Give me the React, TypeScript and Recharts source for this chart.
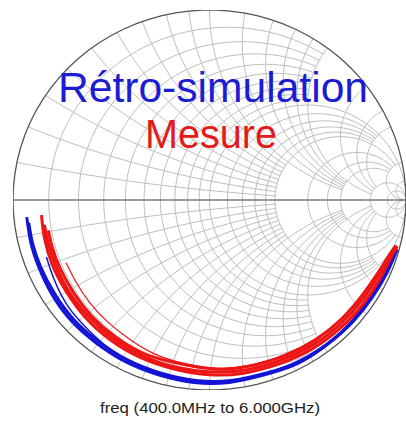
import React from "react";
import { ScatterChart, Scatter, XAxis, YAxis } from "recharts";

// Smith chart grid values (normalized resistance / reactance) and where each arc stops
const resistanceValues = [0.1, 0.2, 0.3, 0.4, 0.5, 0.6, 0.7, 0.8, 0.9, 1, 1.2, 1.4, 1.6, 1.8, 2, 3, 4, 5, 10, 20];
const resistanceLimits = [2, 2, 2, 2, 2, 2, 2, 2, 2, Infinity, 5, 5, 5, 5, 10, 10, 10, 10, Infinity, Infinity];
const reactanceValues = [0.1, 0.2, 0.3, 0.4, 0.5, 0.6, 0.7, 0.8, 0.9, 1, 1.2, 1.4, 1.6, 1.8, 2, 3, 4, 5, 10, 20];
const reactanceLimits = [2, 2, 2, 2, 2, 2, 2, 2, 2, 5, 5, 5, 5, 5, 10, 10, 10, 10, Infinity, Infinity];

const simTraceARe = [-0.93, -0.91, -0.87, -0.8, -0.7, -0.58, -0.43, -0.26, -0.08, 0.1, 0.28, 0.45, 0.6, 0.73, 0.83, 0.9, 0.935, 0.955];
const simTraceAIm = [-0.09, -0.22, -0.35, -0.5, -0.64, -0.75, -0.85, -0.92, -0.96, -0.96, -0.92, -0.86, -0.76, -0.64, -0.51, -0.39, -0.31, -0.26];
const simTraceBRe = [-0.92, -0.9, -0.86, -0.79, -0.69, -0.57, -0.42, -0.25, -0.07, 0.11, 0.29, 0.46, 0.61, 0.735, 0.83, 0.895, 0.93, 0.95];
const simTraceBIm = [-0.12, -0.23, -0.35, -0.49, -0.63, -0.74, -0.84, -0.91, -0.95, -0.95, -0.91, -0.85, -0.75, -0.63, -0.5, -0.38, -0.3, -0.255];
const simTraceCRe = [-0.83, -0.79, -0.72, -0.62, -0.5, -0.36, -0.2, -0.02, 0.16, 0.34, 0.5, 0.64, 0.76, 0.85, 0.91, 0.948];
const simTraceCIm = [-0.3, -0.42, -0.56, -0.68, -0.79, -0.87, -0.93, -0.955, -0.945, -0.895, -0.82, -0.72, -0.59, -0.45, -0.33, -0.255];

const measTraceARe = [-0.855, -0.84, -0.8, -0.73, -0.63, -0.5, -0.35, -0.18, 0, 0.18, 0.36, 0.52, 0.66, 0.78, 0.87, 0.92, 0.955];
const measTraceAIm = [-0.08, -0.2, -0.34, -0.48, -0.62, -0.74, -0.83, -0.89, -0.92, -0.91, -0.86, -0.785, -0.68, -0.55, -0.41, -0.31, -0.245];
const measTraceBRe = [-0.84, -0.82, -0.78, -0.71, -0.61, -0.49, -0.34, -0.17, 0.01, 0.19, 0.37, 0.53, 0.665, 0.78, 0.865, 0.915, 0.952];
const measTraceBIm = [-0.13, -0.23, -0.35, -0.49, -0.62, -0.73, -0.82, -0.88, -0.905, -0.893, -0.84, -0.76, -0.654, -0.523, -0.39, -0.3, -0.24];
const measTraceCRe = [-0.82, -0.8, -0.76, -0.69, -0.6, -0.48, -0.33, -0.16, 0.02, 0.2, 0.38, 0.54, 0.67, 0.78, 0.86, 0.91, 0.948];
const measTraceCIm = [-0.16, -0.25, -0.36, -0.49, -0.61, -0.72, -0.81, -0.86, -0.89, -0.875, -0.82, -0.735, -0.628, -0.5, -0.385, -0.3, -0.24];
const measTraceDRe = [-0.73, -0.68, -0.61, -0.52, -0.41, -0.28, -0.13, 0.04, 0.2, 0.38, 0.54, 0.67, 0.78, 0.86, 0.91, 0.945];
const measTraceDIm = [-0.33, -0.43, -0.54, -0.64, -0.73, -0.81, -0.86, -0.885, -0.87, -0.815, -0.73, -0.625, -0.49, -0.37, -0.29, -0.24];

const W = 406;
const H = 423;

type Pt = { x: number; y: number };

const zip = (re: number[], im: number[]): Pt[] => re.map((v, i) => ({ x: v, y: im[i] }));

// z = r + jx  ->  gamma = (z - 1) / (z + 1)
function gamma(r: number, x: number): Pt {
  const d = (r + 1) * (r + 1) + x * x;
  return { x: (r * r + x * x - 1) / d, y: (2 * x) / d };
}

function resistanceCircle(r: number, xmax: number): Pt[] {
  const c = r / (1 + r);
  const R = 1 / (1 + r);
  let a0 = 0;
  if (isFinite(xmax)) {
    const g = gamma(r, xmax);
    a0 = Math.atan2(g.y, g.x - c);
  }
  const a1 = 2 * Math.PI - a0;
  const pts: Pt[] = [];
  const n = 90;
  for (let i = 0; i <= n; i++) {
    const a = a0 + ((a1 - a0) * i) / n;
    pts.push({ x: c + R * Math.cos(a), y: R * Math.sin(a) });
  }
  return pts;
}

function reactanceArc(x: number, rmax: number, sign: number): Pt[] {
  const cy = 1 / x;
  const R = 1 / x;
  const ang = (g: Pt) => {
    let a = Math.atan2(g.y - cy, g.x - 1);
    if (a < 0) a += 2 * Math.PI;
    return a;
  };
  const a0 = ang(gamma(0, x));
  const a1 = isFinite(rmax) ? ang(gamma(rmax, x)) : 1.5 * Math.PI;
  const pts: Pt[] = [];
  const n = 60;
  for (let i = 0; i <= n; i++) {
    const a = a0 + ((a1 - a0) * i) / n;
    pts.push({ x: 1 + R * Math.cos(a), y: sign * (cy + R * Math.sin(a)) });
  }
  return pts;
}

const gridLines: Pt[][] = [];
resistanceValues.forEach((r, i) => gridLines.push(resistanceCircle(r, resistanceLimits[i])));
reactanceValues.forEach((x, i) => {
  gridLines.push(reactanceArc(x, reactanceLimits[i], 1));
  gridLines.push(reactanceArc(x, reactanceLimits[i], -1));
});

const outerCircle = resistanceCircle(0, Infinity);
const realAxis: Pt[] = [{ x: -1, y: 0 }, { x: 1, y: 0 }];

const simTraces = [
  zip(simTraceARe, simTraceAIm),
  zip(simTraceBRe, simTraceBIm),
  zip(simTraceCRe, simTraceCIm),
];
const measTraces = [
  zip(measTraceARe, measTraceAIm),
  zip(measTraceBRe, measTraceBIm),
  zip(measTraceCRe, measTraceCIm),
  zip(measTraceDRe, measTraceDIm),
];

const NoDot = () => <g />;

export default function App() {
  return (
    <div style={{ position: "absolute", left: 0, top: 0, width: W, height: H, background: "#fff" }}>
      <ScatterChart width={W} height={H} margin={{ top: 10, right: 0, bottom: 33, left: 13 }}>
        <XAxis type="number" dataKey="x" domain={[-1, 1]} allowDataOverflow hide />
        <YAxis type="number" dataKey="y" domain={[-1, 1]} allowDataOverflow hide />
        {gridLines.map((pts, i) => (
          <Scatter
            key={"g" + i}
            data={pts}
            line={{ stroke: "#bdbdbd", strokeWidth: 1 }}
            lineType="joint"
            shape={NoDot}
            isAnimationActive={false}
          />
        ))}
        <Scatter data={realAxis} line={{ stroke: "#7a7a7a", strokeWidth: 1.6 }} lineType="joint" shape={NoDot} isAnimationActive={false} />
        <Scatter data={outerCircle} line={{ stroke: "#555", strokeWidth: 1.3 }} lineType="joint" shape={NoDot} isAnimationActive={false} />
        {simTraces.map((pts, i) => (
          <Scatter
            key={"s" + i}
            data={pts}
            line={{ stroke: "#1414d6", strokeWidth: i === 2 ? 1.5 : 3 }}
            lineType="joint"
            lineJointType="natural"
            shape={NoDot}
            isAnimationActive={false}
          />
        ))}
        {measTraces.map((pts, i) => (
          <Scatter
            key={"m" + i}
            data={pts}
            line={{ stroke: "#ee1414", strokeWidth: i === 3 ? 1.2 : 3 }}
            lineType="joint"
            lineJointType="natural"
            shape={NoDot}
            isAnimationActive={false}
          />
        ))}
      </ScatterChart>
      <svg width={W} height={H} style={{ position: "absolute", left: 0, top: 0, pointerEvents: "none" }}>
        <text x={213} y={102} fontSize={42} fill="#1c1cd2" textAnchor="middle" fontFamily="Liberation Sans, Arial, sans-serif" textLength={310} lengthAdjust="spacingAndGlyphs">
          Rétro-simulation
        </text>
        <text x={211} y={148} fontSize={40} fill="#e41a1a" textAnchor="middle" fontFamily="Liberation Sans, Arial, sans-serif" textLength={132} lengthAdjust="spacingAndGlyphs">
          Mesure
        </text>
        <text x={210} y={413} fontSize={14} fill="#222" textAnchor="middle" fontFamily="Liberation Sans, Arial, sans-serif" textLength={220} lengthAdjust="spacingAndGlyphs">
          freq (400.0MHz to 6.000GHz)
        </text>
      </svg>
    </div>
  );
}
